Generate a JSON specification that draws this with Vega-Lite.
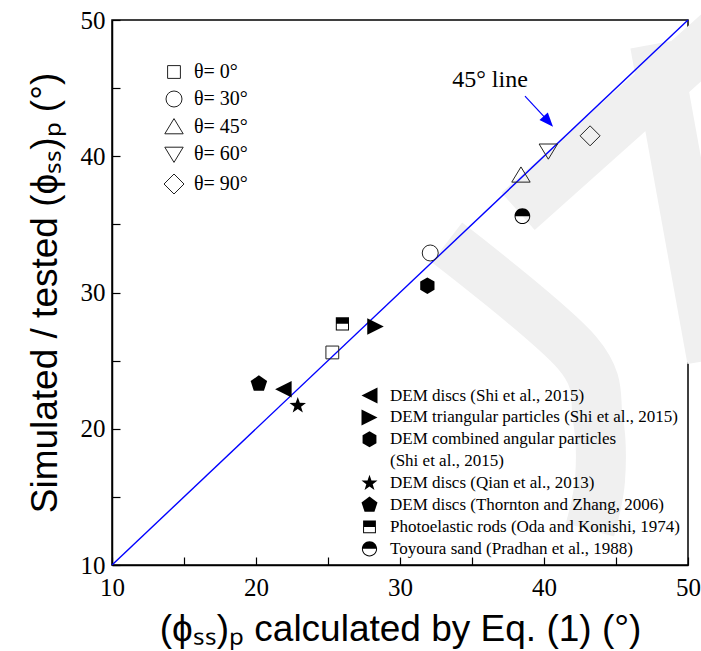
{
 "$schema": "https://vega.github.io/schema/vega-lite/v6.json",
 "width": 576, "height": 545,
 "autosize": {"type": "none"},
 "padding": {"left": 112, "top": 20, "right": 13, "bottom": 86},
 "background": "white",
 "config": {
   "view": {"stroke": "black", "strokeWidth": 1.5},
   "axis": {"domainColor": "black", "domainWidth": 1.5, "tickColor": "black", "tickSize": -8, "tickWidth": 1.2,
            "labelFont": "Liberation Serif", "labelFontSize": 25, "labelColor": "black",
            "titleFont": "Liberation Sans", "titleFontSize": 37, "titleFontWeight": "normal", "titleColor": "black",
            "grid": false, "labelFlush": false, "labelOverlap": false},
   "legend": {"labelFont": "Liberation Serif", "labelColor": "black", "symbolSize": 256, "symbolStrokeWidth": 1, "labelLimit": 0}
 },
 "datasets": {
   "watermark": [
     {"band": "A", "i": 0, "x": 38.2, "y": 35.96},
     {"band": "A", "i": 1, "x": 52.22, "y": 49.19},
     {"band": "C", "i": 0, "x": 47.71, "y": 48.24},
     {"band": "C", "i": 1, "x": 51.67, "y": 25.07},
     {"band": "B", "i": 0, "x": 33.26, "y": 33.68},
     {"band": "B", "i": 1, "x": 42.29, "y": 25.59},
     {"band": "B", "i": 2, "x": 43.75, "y": 20.66},
     {"band": "B", "i": 3, "x": 43.89, "y": 16.25},
     {"band": "B", "i": 4, "x": 43.19, "y": 12.57}
   ],
   "diag": [{"x": 10, "y": 10}, {"x": 50, "y": 50}],
   "theta": [
     {"x": 25.3, "y": 25.6, "theta": "θ= 0°"},
     {"x": 32.1, "y": 32.9, "theta": "θ= 30°"},
     {"x": 38.4, "y": 38.6, "theta": "θ= 45°"},
     {"x": 40.3, "y": 40.4, "theta": "θ= 60°"},
     {"x": 43.2, "y": 41.5, "theta": "θ= 90°"}
   ],
   "sources": [
     {"x": 21.9, "y": 22.9, "source": "DEM discs (Shi et al., 2015)"},
     {"x": 28.3, "y": 27.5, "source": "DEM triangular particles (Shi et al., 2015)"},
     {"x": 31.9, "y": 30.5, "source": "DEM combined angular particles"},
     {"x": 22.9, "y": 21.7, "source": "DEM discs (Qian et al., 2013)"},
     {"x": 20.2, "y": 23.3, "source": "DEM discs (Thornton and Zhang, 2006)"},
     {"x": 26.0, "y": 27.7, "source": "Photoelastic rods (Oda and Konishi, 1974)"},
     {"x": 38.5, "y": 35.6, "source": "Toyoura sand (Pradhan et al., 1988)"}
   ],
   "note": [{"x": 36.25, "y": 45.6, "label": "45° line"}],
   "arrow": [{"x": 38.68, "y": 44.41, "x2": 40.1, "y2": 42.8}],
   "head": [{"x": 40.3, "y": 42.55}]
 },
 "encoding": {
   "x": {"field": "x", "type": "quantitative", "scale": {"domain": [10, 50], "nice": false, "zero": false},
         "axis": {"values": [10, 15, 20, 25, 30, 35, 40, 45, 50], "labelExpr": "datum.value % 10 === 0 ? datum.label : ''",
                  "labelPadding": 18, "title": "(ϕₛₛ)ₚ calculated by Eq. (1) (°)", "titlePadding": 11}},
   "y": {"field": "y", "type": "quantitative", "scale": {"domain": [10, 50], "nice": false, "zero": false},
         "axis": {"values": [10, 15, 20, 25, 30, 35, 40, 45, 50], "labelExpr": "datum.value % 10 === 0 ? datum.label : ''",
                  "labelPadding": 15, "title": "Simulated / tested (ϕₛₛ)ₚ (°)", "titlePadding": 16}}
 },
 "layer": [
   {"data": {"name": "watermark"},
    "mark": {"type": "line", "color": "#f0f0f0", "strokeWidth": 50, "strokeCap": "butt", "strokeJoin": "round", "interpolate": "cardinal"},
    "encoding": {"detail": {"field": "band"}, "order": {"field": "i"}}},
   {"data": {"name": "diag"},
    "mark": {"type": "line", "color": "#0000ff", "strokeWidth": 1.4}},
   {"data": {"name": "theta"},
    "mark": {"type": "point", "filled": false, "stroke": "#222222", "strokeWidth": 1, "size": 256, "opacity": 1},
    "encoding": {"shape": {"field": "theta", "type": "nominal",
      "scale": {"domain": ["θ= 0°", "θ= 30°", "θ= 45°", "θ= 60°", "θ= 90°"],
                "range": ["M-0.8,-0.8H0.8V0.8H-0.8Z", "circle", "M0,-1.05L1.15,0.85L-1.15,0.85Z", "M0,1.05L1.15,-0.85L-1.15,-0.85Z", "M0,-1.25L1.25,0L0,1.25L-1.25,0Z"]},
      "legend": {"orient": "top-left", "offset": 42, "symbolOffset": 10, "title": null, "labelFontSize": 20, "rowPadding": 7, "labelOffset": 10,
                 "symbolStrokeColor": "#222222", "symbolFillColor": "transparent"}}}},
   {"data": {"name": "sources"},
    "mark": {"type": "point", "filled": true, "color": "black", "strokeWidth": 0, "size": 272, "opacity": 1},
    "encoding": {"shape": {"field": "source", "type": "nominal",
      "scale": {"domain": ["DEM discs (Shi et al., 2015)", "DEM triangular particles (Shi et al., 2015)", "DEM combined angular particles", "(Shi et al., 2015)", "DEM discs (Qian et al., 2013)", "DEM discs (Thornton and Zhang, 2006)", "Photoelastic rods (Oda and Konishi, 1974)", "Toyoura sand (Pradhan et al., 1988)"],
                "range": ["M-1,0L1,-1L1,1Z", "M1,0L-1,-1L-1,1Z", "M0,-1L0.866,-0.5L0.866,0.5L0,1L-0.866,0.5L-0.866,-0.5Z", "M0,0",
                          "M0,-1.05L0.247,-0.34L0.999,-0.324L0.399,0.13L0.617,0.849L0,0.42L-0.617,0.849L-0.399,0.13L-0.999,-0.324L-0.247,-0.34Z",
                          "M0,-1.05L0.999,-0.324L0.617,0.849L-0.617,0.849L-0.999,-0.324Z",
                          "M-0.8,-0.8H0.8V0H-0.8Z M-0.8,0H-0.68V0.8H-0.8Z M-0.68,0.68H0.68V0.8H-0.68Z M0.68,0H0.8V0.8H0.68Z",
                          "M-0.95,0A0.95,0.95 0 0 1 0.95,0Z M-0.95,0A0.95,0.95 0 0 0 0.95,0L0.83,0A0.83,0.83 0 0 1 -0.83,0Z"]},
      "legend": {"orient": "bottom-right", "offset": 8, "title": null, "labelFontSize": 17, "rowPadding": 3.9, "labelOffset": 12,
                 "symbolFillColor": "black", "symbolStrokeWidth": 0}}}},
   {"data": {"name": "note"},
    "mark": {"type": "text", "font": "Liberation Serif", "fontSize": 24, "align": "center", "baseline": "middle", "color": "black"},
    "encoding": {"text": {"field": "label"}}},
   {"data": {"name": "arrow"},
    "mark": {"type": "rule", "color": "#0000ff", "strokeWidth": 1.2},
    "encoding": {"x2": {"field": "x2"}, "y2": {"field": "y2"}}},
   {"data": {"name": "head"},
    "mark": {"type": "point", "shape": "M1,0L-1,-0.8L-1,0.8Z", "filled": true, "color": "#0000ff", "size": 196, "angle": 48, "opacity": 1}}
 ],
 "resolve": {"scale": {"shape": "independent"}, "legend": {"shape": "independent"}}
}
